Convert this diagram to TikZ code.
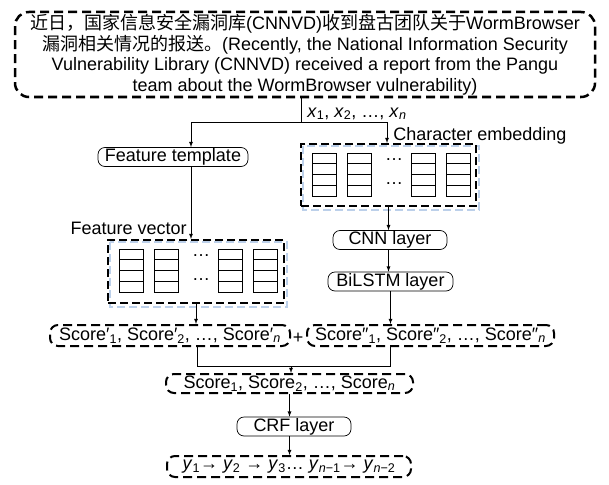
\documentclass[tikz,border=0pt]{standalone}
\usepackage{fontspec}
\setmainfont{Liberation Sans}
\newfontfamily\cjk{Noto Sans CJK SC}
\usetikzlibrary{arrows,calc,positioning}
\definecolor{shadeblue}{RGB}{188,208,234}
\tikzset{
    flow/.style={>=latex,line width=0.8pt,x=1pt,y=-1pt,
                 font=\fontsize{18}{20.5}\selectfont},
    layer/.style={draw,rounded corners=7pt,line width=0.7pt,inner sep=0pt,
                  minimum height=19pt},
    scorebox/.style={draw,rounded corners=8pt,line width=2pt,
                     dash pattern=on 9pt off 5pt,inner sep=0pt,minimum height=21pt},
    embbox/.style={draw,line width=2pt,dash pattern=on 8pt off 4pt,inner sep=0pt},
    embshade/.style={shadeblue,line width=1.5pt,dash pattern=on 8pt off 4pt},
    cell/.style={line width=1pt},
    }
\newcommand{\sub}[1]{\textsubscript{#1}}

\begin{document}
\begin{tikzpicture}[flow]
    \useasboundingbox (0,0) rectangle (609,484);

    % sentence
    \node[draw,line width=2.5pt,dash pattern=on 9pt off 5pt,rounded corners=14pt,
          minimum width=580pt,minimum height=85pt,align=center,inner sep=0pt]
          (top) at (305,54.5)
          {{\cjk 近日，国家信息安全漏洞库}(CNNVD){\cjk 收到盘古团队关于}WormBrowser\\
           {\cjk 漏洞相关情况的报送。}(Recently, the National Information Security\\
           Vulnerability Library (CNNVD) received a report from the Pangu\\
           team about the WormBrowser vulnerability)};

    \coordinate (split) at (301,122);
    \coordinate (jl) at (191,122);
    \coordinate (jr) at (387,122);
    \node[anchor=base west,inner sep=0pt] (xin) at (307,117)
          {\textit{x}\sub{1}, \textit{x}\sub{2}, \dots, \textit{x}\sub{\textit{n}}};

    % feature branch
    \node[layer,minimum width=150pt] (ft) at (173,157) {Feature template};
    \node[embbox,minimum width=176pt,minimum height=63pt] (fv) at (196,271.5) {};
    \node[anchor=east,inner sep=0pt] (fvl) at (187,228) {Feature vector};

    % character branch
    \node[embbox,minimum width=175pt,minimum height=62pt] (ce) at (388.5,175) {};
    \node[anchor=west,inner sep=0pt] (cel) at (393,136) {Character embedding};
    \node[layer,minimum width=114pt] (cnn) at (390,240) {CNN layer};
    \node[layer,minimum width=125pt] (bil) at (390.5,281.5) {BiLSTM layer};

    % scores
    \node[scorebox,minimum width=240pt] (s1) at (170,335.5)
          {Score′\sub{1}, Score′\sub{2}, \dots, Score′\sub{\textit{n}}};
    \node (plus) at (298,338) {+};
    \node[scorebox,minimum width=247pt] (s2) at (430.5,335.5)
          {Score″\sub{1}, Score″\sub{2}, \dots, Score″\sub{\textit{n}}};
    \node[scorebox,minimum width=247pt,minimum height=19pt] (sc) at (289.5,383.5)
          {Score\sub{1}, Score\sub{2}, \dots, Score\sub{\textit{n}}};
    \node[layer,minimum width=114pt] (crf) at (294,426.5) {CRF layer};
    \node[scorebox,minimum width=244pt] (out) at (289,466.5)
          {\textit{y}\sub{1}→ \textit{y}\sub{2} → \textit{y}\sub{3}\dots\ \textit{y}\sub{\textit{n}−1}→ \textit{y}\sub{\textit{n}−2}};

    % vectors inside the dashed boxes
    \draw[embshade] ($(fv.north west)+(3,3)$) rectangle ($(fv.south east)+(2,3)$);
    \draw[embshade] ($(ce.north west)+(3,3)$) rectangle ($(ce.south east)+(2,3)$);
    \node[embbox,minimum width=176pt,minimum height=63pt] at (fv) {};
    \node[embbox,minimum width=175pt,minimum height=62pt] at (ce) {};
    \foreach \b in {fv,ce}{
        \foreach \dx in {12,47,111,146}{
            \draw[cell] ($(\b.north west)+(\dx,10)$) rectangle +(24,43);
            \foreach \r in {1,2,3}
                \draw[cell] ($(\b.north west)+(\dx,{10+10.75*\r})$) -- +(24,0);
        }
        \node[inner sep=0pt] at ($(\b.north west)+(94,17)$) {\dots};
        \node[inner sep=0pt] at ($(\b.north west)+(94,41)$) {\dots};
    }

    % connectors
    \draw (top.south -| split) -- (split);
    \draw[->] (split) -- (jl) -- (jl |- ft.north);
    \draw[->] (split) -- (jr) -- (jr |- ce.north);
    \draw[->] (jl |- ft.south) -- (jl |- fv.north);
    \draw[->] (fv.south) -- (fv.south |- s1.north);
    \draw[->] (ce.south) -- (ce.south |- cnn.north);
    \draw[->] (ce.south |- cnn.south) -- (ce.south |- bil.north);
    \draw[->] (bil.south) -- (bil.south |- s2.north);
    \coordinate (ml) at (197,366);
    \coordinate (mr) at (390,366);
    \coordinate (mc) at (291,366);
    \draw (ml |- s1.south) -- (ml) -- (mr) -- (mr |- s2.south);
    \draw[->] (mc) -- (mc |- sc.north);
    \draw[->] (sc.south) -- (sc.south |- crf.north);
    \draw[->] (sc.south |- crf.south) -- (sc.south |- out.north);
\end{tikzpicture}
\end{document}
